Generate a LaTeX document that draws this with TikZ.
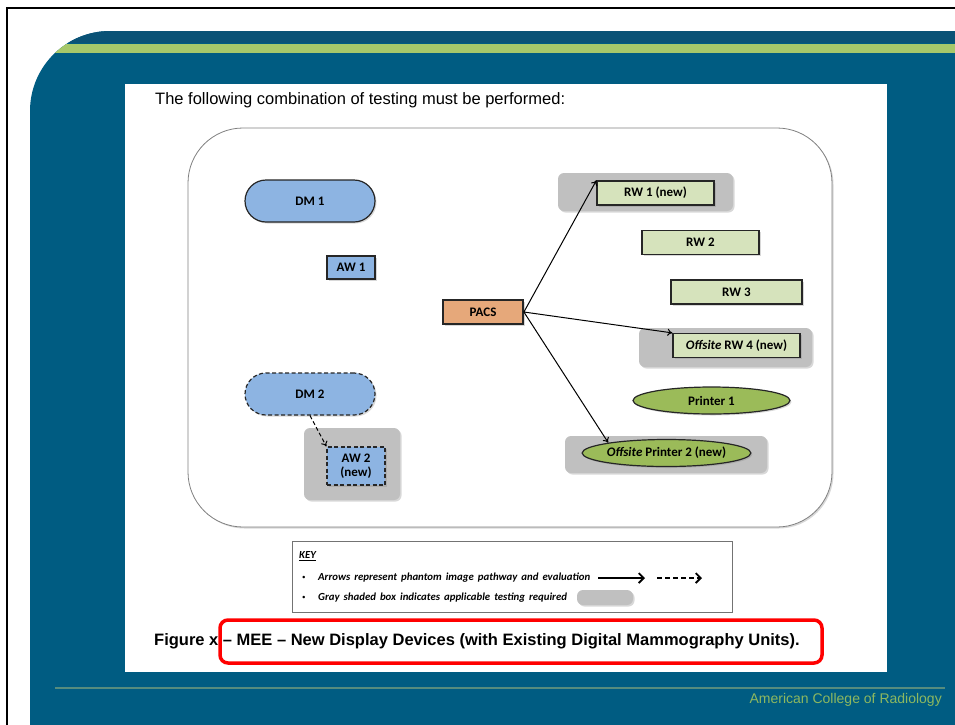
\documentclass[tikz,border=0pt]{standalone}
\usepackage{fontspec}
\setmainfont{Liberation Sans}
\newfontfamily\calibri{Carlito}
\usetikzlibrary{shapes.geometric,arrows.meta,shadows}

\definecolor{fondoazul}{RGB}{0,92,130}
\definecolor{bandaazul}{RGB}{10,82,118}
\definecolor{franjaverde}{RGB}{166,200,106}
\definecolor{azulnodo}{RGB}{141,180,226}
\definecolor{verdeclaro}{RGB}{214,227,188}
\definecolor{verdeoliva}{RGB}{155,187,89}
\definecolor{naranja}{RGB}{230,168,122}
\definecolor{grissombra}{RGB}{192,192,192}
\definecolor{textoacr}{RGB}{141,184,96}
\definecolor{lineapie}{RGB}{86,140,126}

\tikzset{
  sombra/.style={drop shadow={shadow xshift=1.5pt,shadow yshift=-1.5pt,opacity=.3}},
  etiqueta/.style={font=\calibri\bfseries\fontsize{13}{14.5}\selectfont},
  equipo/.style={etiqueta, draw=black!85, line width=1.2pt, inner sep=0pt, sombra},
  azulredondo/.style={equipo, fill=azulnodo, rounded corners=21pt, minimum width=130pt, minimum height=42pt},
  azulcaja/.style={equipo, fill=azulnodo},
  verdecaja/.style={equipo, fill=verdeclaro, minimum height=24pt},
  verdeelipse/.style={equipo, ellipse, fill=verdeoliva, minimum width=157pt, minimum height=27pt},
  discontinuo/.style={dash pattern=on 4pt off 2.5pt},
  sombreado/.style={fill=grissombra, rounded corners=6pt, sombra},
  flecha/.style={-{To[length=5pt,width=7pt]}, line width=1pt},
  flechaclave/.style={-{Straight Barb[length=5pt,width=10pt]}, line width=1.8pt},
  clave/.style={font=\calibri\bfseries\itshape\fontsize{10.8}{12}\selectfont, inner sep=0pt}
}

\begin{document}
\begin{tikzpicture}[x=1pt, y=-1pt]
\useasboundingbox (0,0) rectangle (955,724);

% Marco y fondo de la diapositiva
\draw[line width=2pt] (960,8) -- (7,8) -- (7,730);
\fill[fondoazul, rounded corners=80pt] (30,31) rectangle (1100,900);
\begin{scope}
\clip[rounded corners=80pt] (30,31) rectangle (1100,900);
\fill[bandaazul] (0,31) rectangle (960,43);
\fill[franjaverde] (0,44) rectangle (960,53);
\end{scope}
\fill[white] (125,84) rectangle (887,672);

% Texto superior
\node[anchor=west, inner sep=0pt, font=\fontsize{16.5}{18}\selectfont] (titulo) at (155,100)
  {The following combination of testing must be performed:};

% Recuadro redondeado principal
\draw[black!50, line width=0.8pt, fill=white, rounded corners=55pt, sombra] (188,128) rectangle (832,527);

% Cajas grises (pruebas requeridas)
\fill[sombreado] (558,173) rectangle (733,211);
\fill[sombreado] (639,328) rectangle (812,367);
\fill[sombreado] (565,436) rectangle (767,473);
\fill[sombreado] (304,428) rectangle (400,500);

% Equipos de adquisicion
\node[azulredondo] (dm1) at (310,201) {DM 1};
\node[azulcaja, minimum width=48pt, minimum height=23pt] (aw1) at (351,267.5) {AW 1};
\node[azulredondo, discontinuo] (dm2) at (310,394) {DM 2};
\node[azulcaja, discontinuo, minimum width=58pt, minimum height=38pt, align=center] (aw2) at (356,466) {AW 2\\(new)};

% PACS
\node[equipo, fill=naranja, line width=1.8pt, minimum width=80pt, minimum height=24pt] (pacs) at (483,312) {PACS};

% Estaciones de lectura e impresoras
\node[verdecaja, minimum width=117pt] (rw1) at (655.5,193) {RW 1 (new)};
\node[verdecaja, minimum width=117pt] (rw2) at (700.5,242.5) {RW 2};
\node[verdecaja, minimum width=131pt] (rw3) at (736.5,292) {RW 3};
\node[verdecaja, minimum width=127pt] (rw4) at (736.5,345.5) {\textit{Offsite} RW 4 (new)};
\node[verdeelipse] (pr1) at (711.5,400.5) {Printer 1};
\node[verdeelipse] (pr2) at (666.5,453) {\textit{Offsite} Printer 2 (new)};

% Flechas
\draw[flecha] (pacs.east) -- (rw1.north west);
\draw[flecha] (pacs.east) -- (rw4.north west);
\draw[flecha] (pacs.east) -- (pr2.170);
\draw[flecha, discontinuo] (dm2.south) -- (aw2.north west);

% Leyenda
\draw[black!55, line width=0.8pt] (292,541) rectangle (732,612);
\node[clave, anchor=west] (key) at (299,556) {\underline{KEY}};
\foreach \y/\n in {578/1,598/2}
  \node[clave, anchor=west, font=\calibri\fontsize{7}{8}\selectfont] (bala\n) at (302,\y) {•};
\node[clave, anchor=west] (clave1) at (318,578) {\spaceskip=4pt\relax Arrows represent phantom image pathway and evaluation};
\node[clave, anchor=west] (clave2) at (318,598) {\spaceskip=4pt\relax Gray shaded box indicates applicable testing required};
\coordinate (fa1) at (598,578); \coordinate (fa2) at (645,578);
\coordinate (fb1) at (657,578); \coordinate (fb2) at (702,578);
\draw[flechaclave] (fa1) -- (fa2);
\draw[flechaclave, dash pattern=on 5pt off 3pt] (fb1) -- (fb2);
\fill[sombreado] (577,590) rectangle (633,605);

% Pie de figura
\node[anchor=west, inner sep=0pt, font=\bfseries\fontsize{16.5}{18}\selectfont] (pie) at (154,641)
  {Figure x -- MEE -- New Display Devices (with Existing Digital Mammography Units).};
\draw[red, line width=3.5pt, rounded corners=8pt] (220,620) rectangle (822,663);

% Linea inferior y firma
\draw[lineapie, line width=1.2pt] (55,688) -- (945,688);
\node[anchor=east, inner sep=0pt, text=textoacr, font=\fontsize{14}{16}\selectfont] (acr) at (942,700)
  {American College of Radiology};

\end{tikzpicture}
\end{document}
